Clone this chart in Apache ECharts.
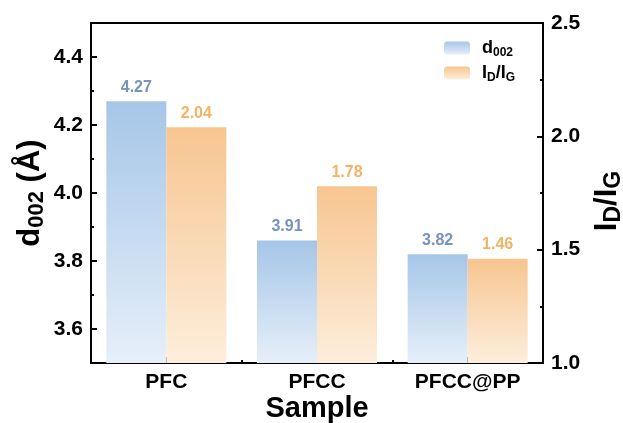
<!DOCTYPE html>
<html>
<head>
<meta charset="utf-8">
<script src="https://cdn.jsdelivr.net/npm/echarts@6/dist/echarts.min.js"></script>
<style>html,body{margin:0;padding:0;background:#fff}#c{width:623px;height:423px}</style>
</head>
<body>
<div id="c"></div>
<script>
const categories = ['PFC', 'PFCC', 'PFCC@PP'];
const d002Values = [4.27, 3.86, 3.82];
const d002Labels = ['4.27', '3.91', '3.82'];
const idigValues = [2.04, 1.78, 1.46];
const idigLabels = ['2.04', '1.78', '1.46'];
const leftMajorTicks = [3.6, 3.8, 4.0, 4.2, 4.4];
const leftMinorTicks = [3.7, 3.9, 4.1, 4.3];

const FF = '"Liberation Sans", Arial, Helvetica, sans-serif';
const chart = echarts.init(document.getElementById('c'));

function grad(top, bottom) {
  return { type: 'linear', x: 0, y: 0, x2: 0, y2: 1,
    colorStops: [{ offset: 0, color: top }, { offset: 1, color: bottom }] };
}
const blueGrad = grad('#a6c6e8', '#e6eff9');
const orangeGrad = grad('#f7c590', '#fdeedc');

const axisLineStyle = { show: true, lineStyle: { color: '#000', width: 2 } };

chart.setOption({
  animation: false,
  textStyle: { fontFamily: FF },
  grid: { left: 91, right: 80, top: 23, bottom: 60, containLabel: false, outerBoundsMode: 'none',
    show: true, borderColor: '#000', borderWidth: 2, backgroundColor: 'transparent' },
  legend: {
    orient: 'vertical', left: 444, top: 39, itemWidth: 26, itemHeight: 13, itemGap: 5, padding: 0,
    data: ['d002', 'IDIG'],
    formatter: function (n) { return n === 'd002' ? '{b|d}{s|002}' : '{b|I}{s|D}{b|/I}{s|G}'; },
    textStyle: {
      padding: [0, 0, 0, 7],
      rich: {
        b: { fontSize: 18, fontWeight: 'bold', color: '#000', fontFamily: FF, lineHeight: 22, verticalAlign: 'middle' },
        s: { fontSize: 12, fontWeight: 'bold', color: '#000', fontFamily: FF, lineHeight: 12, verticalAlign: 'bottom' }
      }
    }
  },
  xAxis: [{
    type: 'category', data: categories, position: 'bottom',
    axisLine: axisLineStyle,
    axisTick: { show: true, inside: true, alignWithLabel: true, length: 6, lineStyle: { color: '#000', width: 2 } },
    axisLabel: { fontSize: 21, fontWeight: 'bold', color: '#000', margin: 9, fontFamily: FF },
    name: 'Sample', nameLocation: 'middle', nameGap: 31, nameMoveOverlap: false,
    nameTextStyle: { fontSize: 29, fontWeight: 'bold', color: '#000', fontFamily: FF }
  }, {
    type: 'category', data: categories, position: 'bottom',
    axisLine: { show: false },
    axisTick: { show: true, inside: true, length: 3, lineStyle: { color: '#000', width: 2 } },
    axisLabel: { show: false }
  }],
  yAxis: [{
    type: 'value', min: 3.5, max: 4.5, position: 'left',
    axisLine: axisLineStyle,
    splitLine: { show: false },
    axisTick: { show: true, inside: true, length: 6, customValues: leftMajorTicks, lineStyle: { color: '#000', width: 2 } },
    axisLabel: { customValues: leftMajorTicks, fontSize: 21, fontWeight: 'bold', color: '#000', margin: 8, fontFamily: FF,
      formatter: function (v) { return v.toFixed(1); } },
    name: '{b|d}{s|002}{b| (Å)}', nameLocation: 'middle', nameGap: 43, nameRotate: 90, nameMoveOverlap: false,
    nameTextStyle: {
      rich: {
        b: { fontSize: 31, fontWeight: 'bold', color: '#000', fontFamily: FF, lineHeight: 36, verticalAlign: 'middle' },
        s: { fontSize: 22, fontWeight: 'bold', color: '#000', fontFamily: FF, lineHeight: 20, verticalAlign: 'bottom' }
      }
    }
  }, {
    type: 'value', min: 1.0, max: 2.5, interval: 0.5, position: 'right',
    axisLine: axisLineStyle,
    splitLine: { show: false },
    axisTick: { show: true, inside: true, length: 6, lineStyle: { color: '#000', width: 2 } },
    minorTick: { show: true, splitNumber: 2, length: 3, lineStyle: { color: '#000', width: 2 } },
    minorSplitLine: { show: false },
    axisLabel: { fontSize: 21, fontWeight: 'bold', color: '#000', margin: 8, fontFamily: FF,
      formatter: function (v) { return v.toFixed(1); } },
    name: '{b|I}{s|D}{b|/I}{s|G}', nameLocation: 'middle', nameGap: 46, nameRotate: 90, nameMoveOverlap: false,
    nameTextStyle: {
      padding: [0, 16, 0, 0],
      rich: {
        b: { fontSize: 31, fontWeight: 'bold', color: '#000', fontFamily: FF, lineHeight: 36, verticalAlign: 'middle' },
        s: { fontSize: 23, fontWeight: 'bold', color: '#000', fontFamily: FF, lineHeight: 20, verticalAlign: 'bottom' }
      }
    }
  }, {
    type: 'value', min: 3.5, max: 4.5, position: 'left',
    axisLine: { show: false }, splitLine: { show: false },
    axisTick: { show: true, inside: true, length: 3, customValues: leftMinorTicks, lineStyle: { color: '#000', width: 2 } },
    axisLabel: { show: false }
  }],
  series: [{
    name: 'd002', type: 'bar', xAxisIndex: 0, yAxisIndex: 0,
    data: d002Values, barWidth: 60, barGap: '0%',
    itemStyle: { color: blueGrad },
    label: { show: true, position: 'top', distance: 6, color: '#7793bb', fontSize: 16, fontWeight: 'bold', fontFamily: FF,
      formatter: function (p) { return d002Labels[p.dataIndex]; } }
  }, {
    name: 'IDIG', type: 'bar', xAxisIndex: 0, yAxisIndex: 1,
    data: idigValues, barWidth: 60, barGap: '0%',
    itemStyle: { color: orangeGrad },
    label: { show: true, position: 'top', distance: 6, color: '#f2b365', fontSize: 16, fontWeight: 'bold', fontFamily: FF,
      formatter: function (p) { return idigLabels[p.dataIndex]; } }
  }]
});
</script>
</body>
</html>
